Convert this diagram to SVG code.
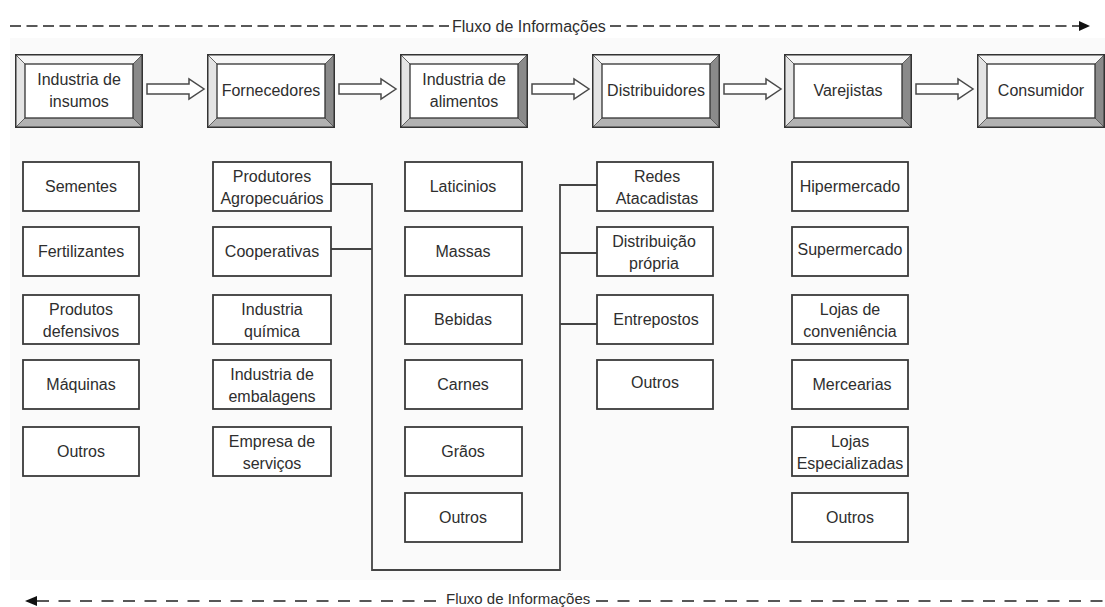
<svg xmlns="http://www.w3.org/2000/svg" xmlns:xlink="http://www.w3.org/1999/xlink" width="1105" height="607" viewBox="0 0 1105 607">
<style>
text{font-family:"Liberation Sans",Arial,sans-serif;font-size:16px;fill:#2e2e2e;text-anchor:middle}
text.flowtxt{text-anchor:start}
.sub{fill:#ffffff;stroke:#3a3a3a;stroke-width:1.8}
.conn{fill:none;stroke:#444;stroke-width:1.8}
.flow{fill:none;stroke:#222;stroke-width:1.6}
.harrow{fill:#ffffff;stroke:#4a4a4a;stroke-width:1.5;stroke-linejoin:miter}
</style>
<defs>
<symbol id="bevel" viewBox="0 0 128 74" width="128" height="74">
<rect x="0.75" y="0.75" width="126.5" height="72.5" fill="#f3f3f3" stroke="#333" stroke-width="1.5"/>
<polygon points="1,1 127,1 118,10 10,10" fill="#f7f7f7"/>
<polygon points="1,1 10,10 10,64 1,73" fill="#e4e4e4"/>
<polygon points="127,1 127,73 118,64 118,10" fill="#8a8a8a"/>
<polygon points="1,73 127,73 118,64 10,64" fill="#b2b2b2"/>
<path d="M1,1 L10,10 M127,1 L118,10 M1,73 L10,64 M127,73 L118,64" stroke="#555" stroke-width="0.9"/>
<rect x="0.75" y="0.75" width="126.5" height="72.5" fill="none" stroke="#333" stroke-width="1.5"/>
<rect x="10" y="10" width="108" height="54" fill="#ffffff" stroke="#333" stroke-width="1.3"/>
</symbol>
<symbol id="harrow" viewBox="-1 -12 60 24" width="60" height="24" overflow="visible">
<path class="harrow" d="M0,-5 H42 V-10 L57,0 L42,10 V5 H0 Z"/>
</symbol>
</defs>
<rect x="0" y="0" width="1105" height="607" fill="#ffffff"/>
<rect x="10" y="38" width="1095" height="542" fill="#fafafa"/>

<g id="flow-top">
<path class="flow" d="M10,26 H449" stroke-dasharray="11 5.5"/>
<path class="flow" d="M610,26 H1080" stroke-dasharray="11 5.5"/>
<polygon points="1079,21 1090,26 1079,31" fill="#111"/>
<text class="flowtxt" x="452" y="32">Fluxo de Informações</text>
</g>
<g id="flow-bottom">
<polygon points="25,601 37,596 37,606" fill="#111"/>
<path class="flow" d="M37,601 H442" stroke-dasharray="12 9.5" stroke-width="2" stroke="#333"/>
<path class="flow" d="M596,601 H1105" stroke-dasharray="12 9.5" stroke-width="2" stroke="#333"/>
<text class="flowtxt" x="446" y="603.5" style="font-size:15px">Fluxo de Informações</text>
</g>

<g id="connectors">
<use xlink:href="#harrow" href="#harrow" x="146" y="77"/>
<use xlink:href="#harrow" href="#harrow" x="338" y="77"/>
<use xlink:href="#harrow" href="#harrow" x="531" y="77"/>
<use xlink:href="#harrow" href="#harrow" x="723" y="77"/>
<use xlink:href="#harrow" href="#harrow" x="915" y="77"/>
<path class="conn" d="M331,184 H372 V570 H560 V185 H597"/>
<path class="conn" d="M331,249 H372"/>
<path class="conn" d="M560,253 H597"/>
<path class="conn" d="M560,324 H597"/>
</g>

<g id="n-insumos"><use xlink:href="#bevel" href="#bevel" x="15" y="54"/><text x="79" y="85">Industria de</text><text x="79" y="107">insumos</text></g>
<g id="n-fornecedores"><use xlink:href="#bevel" href="#bevel" x="207" y="54"/><text x="271" y="96">Fornecedores</text></g>
<g id="n-alimentos"><use xlink:href="#bevel" href="#bevel" x="400" y="54"/><text x="464" y="85">Industria de</text><text x="464" y="107">alimentos</text></g>
<g id="n-distribuidores"><use xlink:href="#bevel" href="#bevel" x="592" y="54"/><text x="656" y="96">Distribuidores</text></g>
<g id="n-varejistas"><use xlink:href="#bevel" href="#bevel" x="784" y="54"/><text x="848" y="96">Varejistas</text></g>
<g id="n-consumidor"><use xlink:href="#bevel" href="#bevel" x="977" y="54"/><text x="1041" y="96">Consumidor</text></g>

<g id="c1-sementes"><rect class="sub" x="23" y="162" width="116" height="49"/><text x="81" y="192">Sementes</text></g>
<g id="c1-fertilizantes"><rect class="sub" x="23" y="227" width="116" height="49"/><text x="81" y="257">Fertilizantes</text></g>
<g id="c1-defensivos"><rect class="sub" x="23" y="295" width="116" height="49"/><text x="81" y="315">Produtos</text><text x="81" y="337">defensivos</text></g>
<g id="c1-maquinas"><rect class="sub" x="23" y="360" width="116" height="49"/><text x="81" y="390">Máquinas</text></g>
<g id="c1-outros"><rect class="sub" x="23" y="427" width="116" height="49"/><text x="81" y="457">Outros</text></g>

<g id="c2-produtores"><rect class="sub" x="213" y="162" width="118" height="49"/><text x="272" y="182">Produtores</text><text x="272" y="204">Agropecuários</text></g>
<g id="c2-cooperativas"><rect class="sub" x="213" y="227" width="118" height="49"/><text x="272" y="257">Cooperativas</text></g>
<g id="c2-quimica"><rect class="sub" x="213" y="295" width="118" height="49"/><text x="272" y="315">Industria</text><text x="272" y="337">química</text></g>
<g id="c2-embalagens"><rect class="sub" x="213" y="360" width="118" height="49"/><text x="272" y="380">Industria de</text><text x="272" y="402">embalagens</text></g>
<g id="c2-servicos"><rect class="sub" x="213" y="427" width="118" height="49"/><text x="272" y="447">Empresa de</text><text x="272" y="469">serviços</text></g>

<g id="c3-laticinios"><rect class="sub" x="405" y="162" width="117" height="49"/><text x="463" y="192">Laticinios</text></g>
<g id="c3-massas"><rect class="sub" x="405" y="227" width="117" height="49"/><text x="463" y="257">Massas</text></g>
<g id="c3-bebidas"><rect class="sub" x="405" y="295" width="117" height="49"/><text x="463" y="325">Bebidas</text></g>
<g id="c3-carnes"><rect class="sub" x="405" y="360" width="117" height="49"/><text x="463" y="390">Carnes</text></g>
<g id="c3-graos"><rect class="sub" x="405" y="427" width="117" height="49"/><text x="463" y="457">Grãos</text></g>
<g id="c3-outros"><rect class="sub" x="405" y="493" width="117" height="49"/><text x="463" y="523">Outros</text></g>

<g id="c4-redes"><rect class="sub" x="597" y="162" width="116" height="49"/><text x="657" y="182">Redes</text><text x="657" y="204">Atacadistas</text></g>
<g id="c4-propria"><rect class="sub" x="597" y="227" width="116" height="49"/><text x="654" y="247">Distribuição</text><text x="654" y="269">própria</text></g>
<g id="c4-entrepostos"><rect class="sub" x="597" y="295" width="116" height="49"/><text x="656" y="325">Entrepostos</text></g>
<g id="c4-outros"><rect class="sub" x="597" y="360" width="116" height="49"/><text x="655" y="388">Outros</text></g>

<g id="c5-hiper"><rect class="sub" x="792" y="162" width="116" height="49"/><text x="850" y="192">Hipermercado</text></g>
<g id="c5-super"><rect class="sub" x="792" y="227" width="116" height="49"/><text x="850" y="255">Supermercado</text></g>
<g id="c5-conveniencia"><rect class="sub" x="792" y="295" width="116" height="49"/><text x="850" y="315">Lojas de</text><text x="850" y="337">conveniência</text></g>
<g id="c5-mercearias"><rect class="sub" x="792" y="360" width="116" height="49"/><text x="852" y="390">Mercearias</text></g>
<g id="c5-especializadas"><rect class="sub" x="792" y="427" width="116" height="49"/><text x="850" y="447">Lojas</text><text x="850" y="469">Especializadas</text></g>
<g id="c5-outros"><rect class="sub" x="792" y="493" width="116" height="49"/><text x="850" y="523">Outros</text></g>
</svg>
